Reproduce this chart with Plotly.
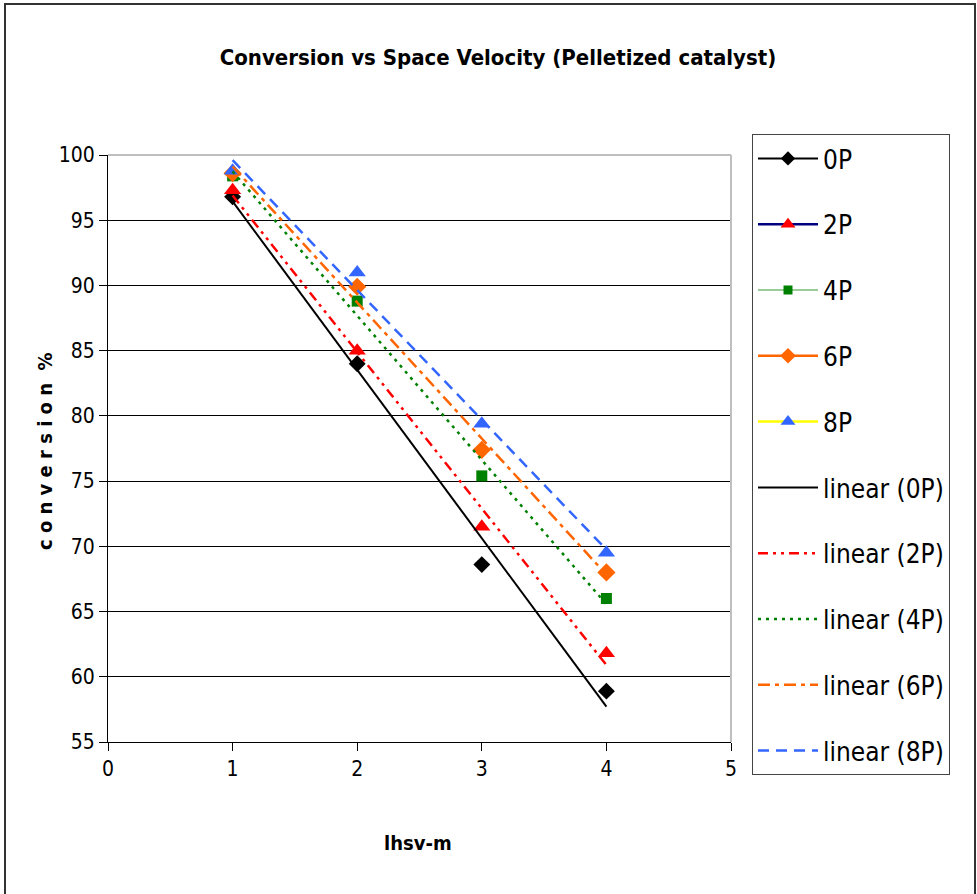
import numpy as np
import plotly.graph_objects as go

# lhsv-m values and measured conversion (%) per pelletized catalyst series
lhsv = [1, 2, 3, 4]
series_names = ["0P", "2P", "4P", "6P", "8P"]
conv_0p = [96.8, 84.0, 68.6, 58.9]
conv_2p = [97.3, 85.0, 71.5, 61.8]
conv_4p = [98.4, 88.8, 75.4, 66.0]
conv_6p = [98.6, 89.9, 77.4, 68.0]
conv_8p = [98.8, 91.0, 79.4, 69.5]
values = [conv_0p, conv_2p, conv_4p, conv_6p, conv_8p]

marker_symbols = ["diamond", "triangle-up", "square", "diamond", "triangle-up"]
marker_colors = ["#000000", "#FF0000", "#008000", "#FF6600", "#3366FF"]
marker_sizes = [13, 15, 11, 14, 15]
legend_line_colors = ["#000000", "#000080", "#339933", "#FF6600", "#FFFF00"]
legend_line_widths = [2, 2.5, 1, 2.5, 2.5]
trend_colors = ["#000000", "#FF0000", "#008000", "#FF6600", "#3366FF"]
trend_dashes = ["solid", "10px,5px,3px,5px,3px,5px", "3px,5px", "12px,5px,4px,5px", "11px,7px"]
trend_widths = [2, 2.5, 2.5, 2.5, 2.5]

FONT = "Liberation Sans Narrow, Arial Narrow, DejaVu Sans Condensed, Liberation Sans, sans-serif"

fig = go.Figure()

# measured points (markers only) plus legend entries styled as line+marker
for i, name in enumerate(series_names):
    fig.add_trace(go.Scatter(
        x=lhsv, y=values[i], mode="markers", name=name,
        legendgroup=name, showlegend=False,
        marker=dict(symbol=marker_symbols[i], color=marker_colors[i], size=marker_sizes[i]),
    ))
    fig.add_trace(go.Scatter(
        x=[None], y=[None], mode="lines+markers", name=name,
        legendgroup=name, showlegend=True,
        line=dict(color=legend_line_colors[i], width=legend_line_widths[i]),
        marker=dict(symbol=marker_symbols[i], color=marker_colors[i], size=marker_sizes[i] - 2),
    ))

# least-squares linear trendlines over the measured range
for i, name in enumerate(series_names):
    slope, intercept = np.polyfit(lhsv, values[i], 1)
    xs = [min(lhsv), max(lhsv)]
    ys = [slope * x + intercept for x in xs]
    fig.add_trace(go.Scatter(
        x=xs, y=ys, mode="lines", name=f"linear ({name})",
        legendgroup=f"linear ({name})",
        line=dict(color=trend_colors[i], width=trend_widths[i], dash=trend_dashes[i]),
    ))

L, R, T, B = 108, 246, 155, 152
W, H = 977, 894
pw, ph = W - L - R, H - T - B

def px_x(p):
    return (p - L) / pw

def px_y(p):
    return (H - B - p) / ph

shapes = [
    # plot area top and right edges
    dict(type="line", xref="paper", yref="paper", x0=0, x1=1, y0=1, y1=1,
         line=dict(color="#BFBFBF", width=2), layer="above"),
    dict(type="line", xref="paper", yref="paper", x0=1, x1=1, y0=0, y1=1,
         line=dict(color="#BFBFBF", width=2), layer="above"),
    # chart frame
    dict(type="rect", xref="paper", yref="paper",
         x0=px_x(5), x1=px_x(975), y0=px_y(4), y1=px_y(940),
         line=dict(color="#333333", width=2), layer="below"),
]

annotations = [
    dict(text="<b>c o n v e r s i o n  %</b>", xref="paper", yref="paper",
         x=px_x(45), y=px_y(451), textangle=-90, showarrow=False,
         xanchor="center", yanchor="middle",
         font=dict(family=FONT, size=20, color="black")),
    dict(text="<b>lhsv-m</b>", xref="paper", yref="paper",
         x=px_x(418), y=px_y(843), showarrow=False,
         xanchor="center", yanchor="middle",
         font=dict(family=FONT, size=20, color="black")),
]

fig.update_layout(
    width=W, height=H,
    margin=dict(l=L, r=R, t=T, b=B, pad=0),
    paper_bgcolor="white", plot_bgcolor="white",
    font=dict(family=FONT, color="black", size=22),
    title=dict(text="<b>Conversion vs Space Velocity (Pelletized catalyst)</b>",
               x=498 / W, xanchor="center", y=1 - 57 / H, yanchor="middle",
               font=dict(family=FONT, size=22, color="black")),
    xaxis=dict(range=[0, 5], dtick=1, tick0=0, showgrid=False, zeroline=False,
               showline=True, linecolor="black", linewidth=1,
               ticks="outside", ticklen=8, tickcolor="black",
               tickfont=dict(family=FONT, size=21)),
    yaxis=dict(range=[55, 100], dtick=5, tick0=55, showgrid=True, gridcolor="black",
               gridwidth=1, zeroline=False, showline=True, linecolor="black", linewidth=1,
               ticks="outside", ticklen=8, tickcolor="black",
               tickfont=dict(family=FONT, size=21)),
    legend=dict(x=px_x(752), y=px_y(134), xanchor="left", yanchor="top",
                bordercolor="#444444", borderwidth=1, bgcolor="white",
                font=dict(family=FONT, size=26, color="black"),
                tracegroupgap=29, itemwidth=60, maxheight=720),
    annotations=annotations,
    shapes=shapes,
    showlegend=True,
)

fig.write_html("out.html")
